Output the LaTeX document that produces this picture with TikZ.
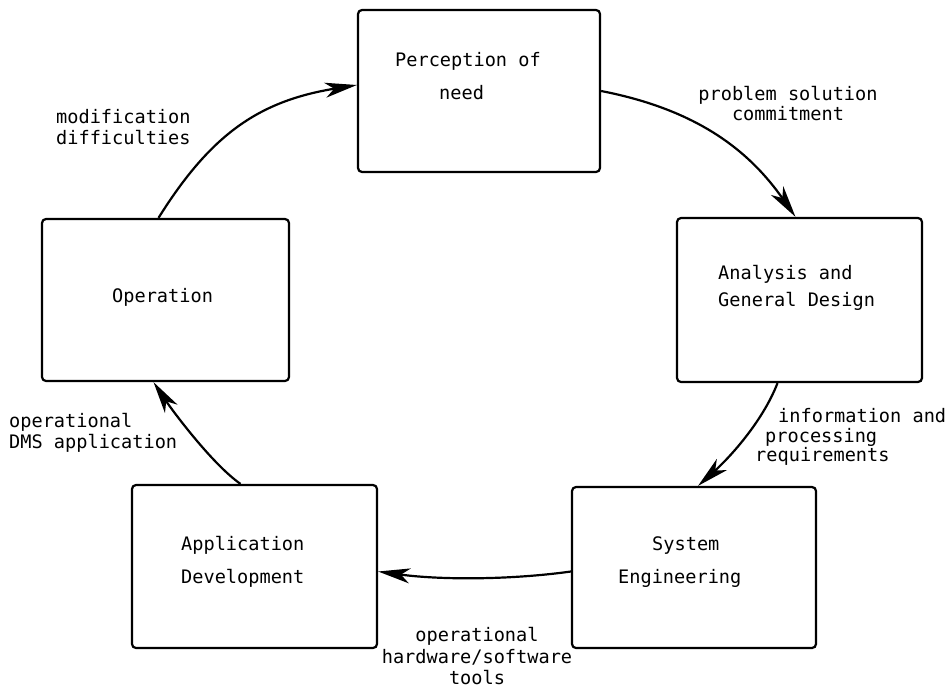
\documentclass[tikz,border=0pt]{standalone}
\usepackage{fontspec}
\newfontfamily\typewr{DejaVu Sans Mono}
\usetikzlibrary{arrows.meta}
\begin{document}
\begin{tikzpicture}[x=1pt,y=-1pt,
  stage/.style={draw, line width=2.2pt, rounded corners=4pt, inner sep=0pt},
  txt/.style={font=\typewr\fontsize{18.6}{22}\selectfont, inner sep=0pt, anchor=base west},
  ctxt/.style={txt, anchor=base},
  flow/.style={line width=2.2pt, -{Stealth[length=32pt,width=15pt,inset=9pt]}}]
\useasboundingbox (0,0) rectangle (949,688);

% the five stages of the cycle
\node[stage, minimum width=242pt, minimum height=162pt] (need)   at (479,91)    {};
\node[stage, minimum width=245pt, minimum height=164pt] (anal)   at (799.5,300) {};
\node[stage, minimum width=244pt, minimum height=161pt] (syseng) at (694,567.5) {};
\node[stage, minimum width=245pt, minimum height=163pt] (appdev) at (254.5,566.5) {};
\node[stage, minimum width=247pt, minimum height=162pt] (oper)   at (165.5,300) {};

% stage titles
\node[txt] (needA) at (395,66)  {Perception of};
\node[txt] (needB) at (439,99)  {need};
\node[txt] (analA) at (718,279) {Analysis and};
\node[txt] (analB) at (718,306) {General Design};
\node[txt] (sysA)  at (652,550) {System};
\node[txt] (sysB)  at (618,583) {Engineering};
\node[txt] (appA)  at (181,550) {Application};
\node[txt] (appB)  at (181,583) {Development};
\node[txt] (operA) at (112,302) {Operation};

% transitions between stages
\draw[flow] (need.east) .. controls (699,110) and (750,152) .. ([xshift=-4pt]anal.north);
\draw[flow] ([xshift=-22pt]anal.south) .. controls (762,423) and (728,459) .. ([xshift=4pt]syseng.north);
\draw[flow] ([yshift=-4pt]syseng.west) .. controls (510,580) and (440,580) .. ([yshift=-5pt]appdev.east);
\draw[flow] ([xshift=-14pt]appdev.north) .. controls (212,464) and (172,410) .. ([xshift=-12pt]oper.south);
\draw[flow] ([xshift=-7pt]oper.north) .. controls (211,134) and (259,101) .. ([yshift=6pt]need.west);

% what each transition carries
\node[ctxt] (lbl1a) at (788,100) {problem solution};
\node[ctxt] (lbl1b) at (788,120) {commitment};
\node[txt]  (lbl2a) at (778,422) {information and};
\node[txt]  (lbl2b) at (765,442) {processing};
\node[txt]  (lbl2c) at (755,461) {requirements};
\node[ctxt] (lbl3a) at (477,641) {operational};
\node[ctxt] (lbl3b) at (477,663) {hardware/software};
\node[ctxt] (lbl3c) at (477,684) {tools};
\node[txt]  (lbl4a) at (9,427)   {operational};
\node[txt]  (lbl4b) at (9,448)   {DMS application};
\node[txt]  (lbl5a) at (56,123)  {modification};
\node[txt]  (lbl5b) at (56,144)  {difficulties};
\end{tikzpicture}
\end{document}
